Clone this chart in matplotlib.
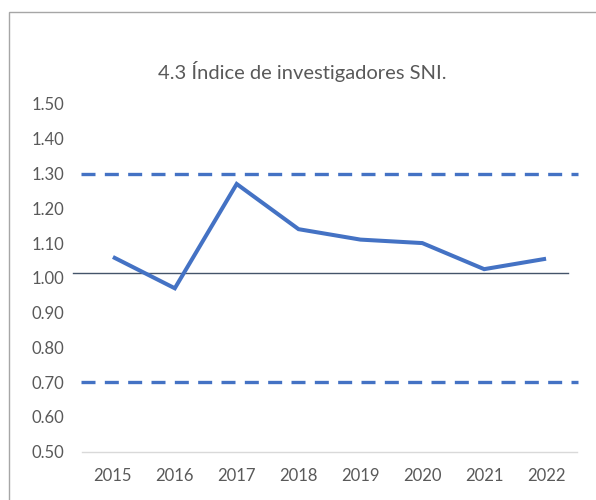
import matplotlib
matplotlib.use("Agg")
import matplotlib.pyplot as plt
from matplotlib.patches import Rectangle

years = ["2015", "2016", "2017", "2018", "2019", "2020", "2021", "2022"]
indice = [1.06, 0.97, 1.27, 1.14, 1.11, 1.10, 1.025, 1.055]
upper_limit = 1.30
lower_limit = 0.70
reference = 1.015
y_ticks = [0.50, 0.60, 0.70, 0.80, 0.90, 1.00, 1.10, 1.20, 1.30, 1.40, 1.50]
title = "4.3 Índice de investigadores SNI."

plt.rcParams['font.family'] = ['Lato', 'DejaVu Sans']

W, H = 596, 500
fig = plt.figure(figsize=(W / 100, H / 100), dpi=100)
fig.patch.set_facecolor("white")

# chart border (cropped on the right and bottom)
fig.patches.append(Rectangle((9 / W, -0.1), 2.0, 1.1 - 11.7 / H,
                             transform=fig.transFigure, fill=False,
                             edgecolor="#a6a6a6", linewidth=1.0))

left, right = 82 / W, 577 / W
bottom, top = 1 - 451.7 / H, 1 - 104 / H
ax = fig.add_axes([left, bottom, right - left, top - bottom])

x = list(range(len(years)))
blue = "#4472C4"

ax.plot([-0.52, 7.51], [upper_limit] * 2, color=blue, lw=2.4,
        dashes=(4.2, 2.8), clip_on=False, solid_capstyle="butt")
ax.plot([-0.52, 7.51], [lower_limit] * 2, color=blue, lw=2.4,
        dashes=(4.2, 2.8), clip_on=False, solid_capstyle="butt")
ax.plot([-0.64, 7.35], [reference] * 2, color="#44546A", lw=1.0,
        clip_on=False)
ax.plot(x, indice, color=blue, lw=2.9, solid_joinstyle="miter",
        solid_capstyle="butt", clip_on=False, zorder=5)

ax.set_xlim(-0.5, 7.5)
ax.set_ylim(0.5, 1.5)
ax.set_xticks(x)
ax.set_xticklabels(years)
ax.set_yticks(y_ticks)
ax.set_yticklabels([f"{v:.2f}" for v in y_ticks])

for s in ["top", "right", "left"]:
    ax.spines[s].set_visible(False)
ax.spines["bottom"].set_color("#d9d9d9")
ax.spines["bottom"].set_linewidth(1.0)

ax.tick_params(axis="both", length=0, colors="#595959", labelsize=12)
ax.tick_params(axis="y", pad=13)
ax.tick_params(axis="x", pad=12)

fig.text(302.5 / W, 1 - 72 / H, title, ha="center", va="center",
         fontsize=14.5, color="#595959")

fig.savefig("out.png", dpi=100, facecolor="white")
